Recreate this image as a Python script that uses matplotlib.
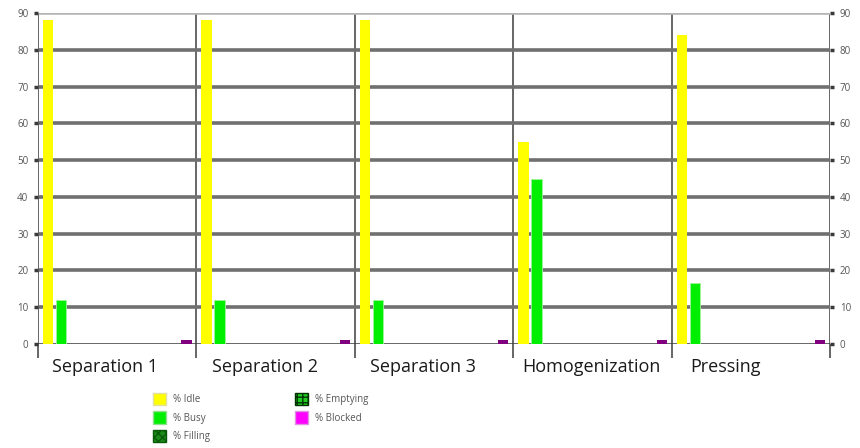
import matplotlib
matplotlib.use("Agg")
import matplotlib.pyplot as plt
from matplotlib.patches import Patch
import matplotlib.transforms as mtransforms
import numpy as np

categories = ["Separation 1", "Separation 2", "Separation 3", "Homogenization", "Pressing"]
series_names = ["% Idle", "% Busy", "% Filling", "% Emptying", "% Blocked"]
idle = [88, 88, 88, 55, 84]
busy = [12, 12, 12, 45, 16.5]
filling = [0, 0, 0, 0, 0]
emptying = [0, 0, 0, 0, 0]
blocked = [1, 1, 1, 1, 1]
yticks = list(range(0, 91, 10))

plt.rcParams['font.family'] = ['Open Sans', 'DejaVu Sans']

fig = plt.figure(figsize=(8.6, 4.48), dpi=100)
ax = fig.add_axes([0.0442, 0.232, 0.921, 0.739])

n = len(categories)
x = np.arange(n)
bw = 0.065
ax.bar(x + 0.032, idle, width=bw, align='edge', color='#FFFF00', zorder=3)
ax.bar(x + 0.114, busy, width=bw, align='edge', color='#00EE00',
       edgecolor='#9CF59C', linewidth=0.6, zorder=3)
ax.bar(x + 0.40, filling, width=bw, align='edge', color='#008000', zorder=3)
ax.bar(x + 0.60, emptying, width=bw, align='edge', color='#00CC00', zorder=3)
ax.bar(x + 0.905, blocked, width=bw, align='edge', color='#800080', zorder=3)

ax.set_xlim(0, n)
ax.set_ylim(0, 90)
ax.set_yticks(yticks)
ax.set_xticks(np.arange(n + 1))
ax.set_xticklabels([])
ax.grid(axis='y', color='#707070', linewidth=2.6, zorder=1)
ax.grid(axis='x', color='#5A5A5A', linewidth=1.3, zorder=2)
gl = ax.get_ygridlines()
gl[-1].set_color('#B5B5B5')
gl[0].set_color('#3A3A3A')
gl[0].set_linewidth(1.8)
for s in ['top', 'left', 'right', 'bottom']:
    ax.spines[s].set_visible(False)

ax.tick_params(axis='x', direction='out', length=10, width=1.3, color='#5A5A5A')
ax.tick_params(axis='y', direction='out', length=3, width=2.5, color='#3A3A3A',
               labelsize=7, labelcolor='#555555', right=True, labelright=True, pad=4)

trans = mtransforms.blended_transform_factory(ax.transData, ax.transAxes)
offsets = [0.09, 0.10, 0.095, 0.057, 0.12]
for i, (c, o) in enumerate(zip(categories, offsets)):
    ax.text(i + o, -0.07, c, transform=trans, ha='left', va='center',
            fontsize=13, color='#1a1a1a')

handles = [
    Patch(facecolor='#FFFF00', edgecolor='#E0E0A0', label=series_names[0]),
    Patch(facecolor='#00EE00', edgecolor='#90E090', label=series_names[1]),
    Patch(facecolor='#1A8A1A', edgecolor='#0A5A0A', hatch='xxxx', label=series_names[2]),
    Patch(facecolor='#22CC22', edgecolor='#003300', hatch='+++', label=series_names[3]),
    Patch(facecolor='#FF00FF', edgecolor='#E090E0', label=series_names[4]),
]
fig.legend(handles=handles, ncol=2, loc='upper left', bbox_to_anchor=(0.172, 0.134),
           frameon=False, fontsize=7, labelcolor='#555555', handlelength=1.4,
           handleheight=1.6, columnspacing=8.7, labelspacing=0.62, handletextpad=0.7,
           borderpad=0)

fig.savefig("out.png", dpi=100)
